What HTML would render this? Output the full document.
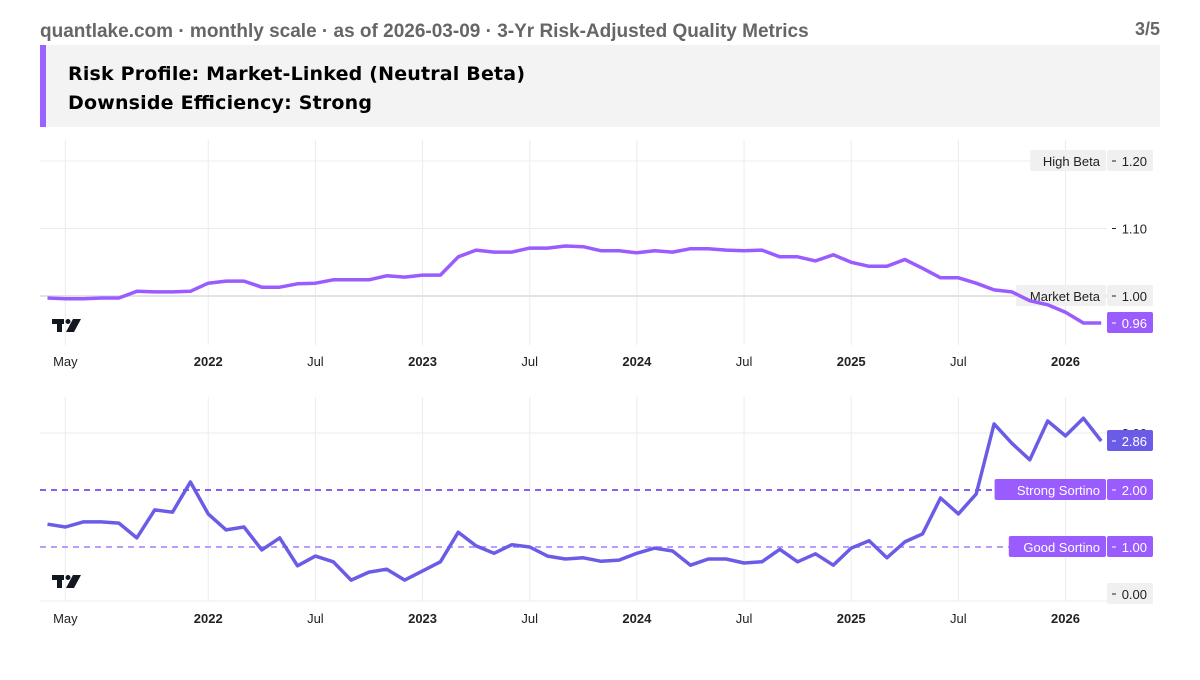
<!DOCTYPE html>
<html><head><meta charset="utf-8">
<style>
body{margin:0;background:#fff;font-family:"Liberation Sans",sans-serif;}
svg text{font-family:"Liberation Sans",sans-serif;}
</style></head>
<body>
<svg id="c" width="1200" height="675" viewBox="0 0 1200 675" xmlns="http://www.w3.org/2000/svg">
<text x="40" y="37" font-size="19" fill="#666" font-weight="bold">quantlake.com · monthly scale · as of 2026-03-09 · 3-Yr Risk-Adjusted Quality Metrics</text>
<text x="1160" y="35" font-size="18" fill="#666" font-weight="bold" text-anchor="end">3/5</text>
<rect x="40" y="45" width="1120" height="82" fill="#f3f3f3"/>
<rect x="40" y="45" width="6" height="82" fill="#9a63ff"/>
<text x="68" y="80" font-size="19" font-weight="bold" fill="#000" style="font-family:'DejaVu Sans',sans-serif" textLength="457">Risk Profile: Market-Linked (Neutral Beta)</text>
<text x="68" y="109" font-size="19" font-weight="bold" fill="#000" style="font-family:'DejaVu Sans',sans-serif" textLength="304">Downside Efficiency: Strong</text>
<g id="top"></g>
<g id="bot"></g>
</svg>
<script>
const betaValues=[0.997,0.996,0.996,0.997,0.997,1.007,1.006,1.006,1.007,1.019,1.022,1.022,1.013,1.013,1.018,1.019,1.024,1.024,1.024,1.030,1.028,1.031,1.031,1.058,1.068,1.065,1.065,1.071,1.071,1.074,1.073,1.067,1.067,1.064,1.067,1.065,1.070,1.070,1.068,1.067,1.068,1.058,1.058,1.052,1.061,1.050,1.044,1.044,1.054,1.041,1.027,1.027,1.019,1.009,1.006,0.993,0.987,0.976,0.960,0.960];
const sortinoValues=[1.40,1.35,1.44,1.44,1.42,1.16,1.65,1.61,2.14,1.58,1.30,1.35,0.95,1.16,0.67,0.84,0.74,0.42,0.56,0.61,0.42,0.58,0.74,1.26,1.02,0.89,1.04,1.00,0.84,0.79,0.81,0.75,0.77,0.89,0.98,0.93,0.68,0.79,0.79,0.72,0.74,0.96,0.74,0.88,0.68,0.98,1.11,0.81,1.09,1.23,1.86,1.58,1.93,3.16,2.82,2.53,3.21,2.95,3.26,2.86];
const tickLabels=["May","2022","Jul","2023","Jul","2024","Jul","2025","Jul","2026"];
const tickMonths=[1,9,15,21,27,33,39,45,51,57]; // month index from Apr 2021
const betaTicks=[1.10];
const sortinoTicks=[3];

const NS="http://www.w3.org/2000/svg";
function el(p,t,a,txt){const e=document.createElementNS(NS,t);for(const k in a)e.setAttribute(k,a[k]);if(txt!==undefined)e.textContent=txt;p.appendChild(e);return e;}
const xS=i=>47.5+i*17.86;
const plotL=40,plotR=1107;

function valLabel(g,y,txt,fill,tc,prefix,nm,box){
  if(box){const b=el(g,'rect',{x:1107,y:y-11,width:46,height:21,fill:fill,rx:2});
    }
  const d=el(g,'line',{x1:1112,x2:1116,y1:y,y2:y,stroke:tc,'stroke-width':1});
  
  const t=el(g,'text',{x:1147,y:y+5,'font-size':13,'text-anchor':'end',fill:tc},txt);
  
}
function logo(g,x,y,prefix){
  const a=el(g,'g',{fill:'#131722'});
  
  el(a,'rect',{x:x,y:y,width:12,height:5});
  el(a,'rect',{x:x+5,y:y,width:5,height:13});
  el(a,'circle',{cx:x+16,cy:y+2.5,r:2.5});
  el(a,'polygon',{points:`${x+21},${y} ${x+29},${y} ${x+22},${y+13} ${x+14},${y+13}`});
}
function panel(g,yS,top,bot,axisY,vals,color,ticks,fmt,refs,lastFill,prefix){
  tickMonths.forEach((m,k)=>{
    const l=el(g,'line',{x1:xS(m),x2:xS(m),y1:top,y2:bot,stroke:'#ebebeb'});
    
    const t=el(g,'text',{x:xS(m),y:axisY,'font-size':13,'text-anchor':'middle',fill:'#222','font-weight':/^\d{4}$/.test(tickLabels[k])?'bold':'normal'},tickLabels[k]);
    
  });
  ticks.forEach(v=>{
    const y=yS(v);
    const l=el(g,'line',{x1:plotL,x2:plotR,y1:y,y2:y,stroke:'#ebebeb'});
    
    valLabel(g,y,fmt(v),'none','#222',prefix,'y-tick-label',false);
  });
  refs.forEach(r=>{
    const y=yS(r.v);
    const l=r.dash?el(g,'line',{x1:plotL,x2:plotR,y1:y,y2:y,stroke:r.c,'stroke-width':2,'stroke-dasharray':'6 5'})
                 :el(g,'line',{x1:plotL,x2:plotR,y1:y,y2:y,stroke:r.c,'stroke-width':r.w||1});
    
    const w=r.label.length*7.1+12;
    const b=el(g,'rect',{x:1106-w,y:y-11,width:w,height:21,fill:r.box,rx:2});
    
    const t=el(g,'text',{x:1100,y:y+5,'font-size':13,'text-anchor':'end',fill:r.tc},r.label);
    
    valLabel(g,y,fmt(r.v),r.box,r.tc,prefix,'ref-value',true);
  });
  const d=vals.map((v,i)=>(i?'L':'M')+xS(i).toFixed(1)+' '+yS(v).toFixed(1)).join(' ');
  const p=el(g,'path',{d:d,fill:'none',stroke:color,'stroke-width':3.5,'stroke-linejoin':'round'});
  
  const last=vals[vals.length-1];
  valLabel(g,yS(last),fmt(last),lastFill,'#fff',prefix,'last-value',true);
  logo(g,52,bot-26,prefix);
}
const yTop=v=>296-(v-1)*675;
panel(document.getElementById('top'),yTop,140,345,366,betaValues,'#9a5cff',betaTicks,v=>v.toFixed(2),
  [{v:1.20,label:'High Beta',dash:false,c:'#ececec',box:'#f0f0f0',tc:'#222'},{v:1.00,label:'Market Beta',dash:false,c:'#e4e4e4',w:2,box:'#f0f0f0',tc:'#222'}],'#9a5cff','beta');
const yBot=v=>547-(v-1)*57;
panel(document.getElementById('bot'),yBot,397,601,623,sortinoValues,'#6b5ce7',sortinoTicks,v=>v.toFixed(2),
  [{v:2,label:'Strong Sortino',dash:true,c:'#8b5cf6',box:'#9a5cff',tc:'#fff'},{v:1,label:'Good Sortino',dash:true,c:'#bb9cff',box:'#9a5cff',tc:'#fff'}],'#6b5ce7','sortino');
(function(){const g=document.getElementById('bot');
const l=el(g,'line',{x1:plotL,x2:plotR,y1:601,y2:601,stroke:'#eee'});

valLabel(g,594,'0.00','#f0f0f0','#222','sortino','zero-label',true);})();
</script>
</body></html>
